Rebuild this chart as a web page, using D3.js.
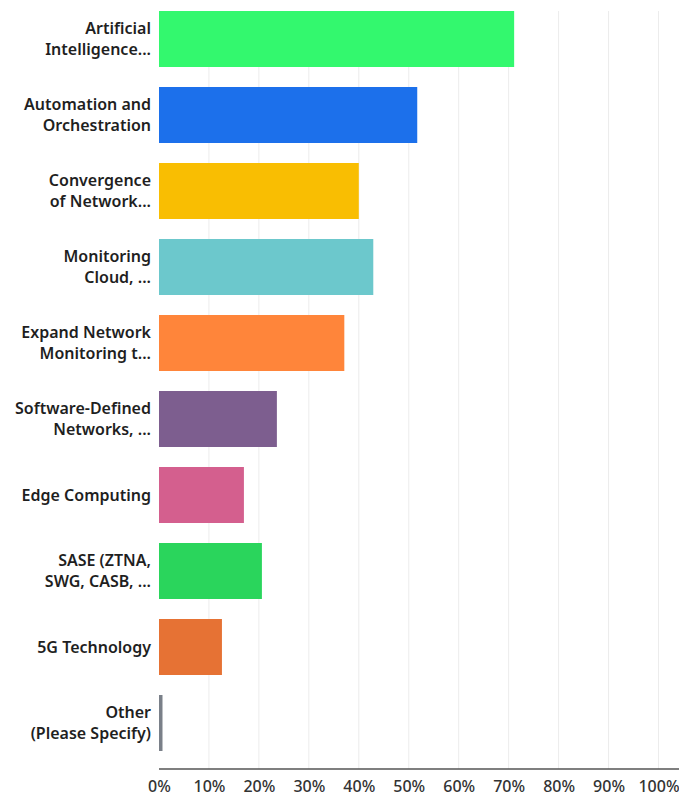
<!DOCTYPE html>
<html>
<head>
<meta charset="utf-8">
<script src="https://cdn.jsdelivr.net/npm/d3@7"></script>
<style>
  body { margin: 0; background: #fff; }
  svg text { font-family: "Noto Sans", sans-serif; }
</style>
</head>
<body>
<script>
var categories = [
  ['Artificial', 'Intelligence...'],
  ['Automation and', 'Orchestration'],
  ['Convergence', 'of Network...'],
  ['Monitoring', 'Cloud, ...'],
  ['Expand Network', 'Monitoring t...'],
  ['Software-Defined', 'Networks, ...'],
  ['Edge Computing'],
  ['SASE (ZTNA,', 'SWG, CASB, ...'],
  ['5G Technology'],
  ['Other', '(Please Specify)']
];
var values = [71.1, 51.7, 40.0, 42.9, 37.1, 23.6, 17.0, 20.6, 12.6, 0.7];
var colors = ['#33f86e', '#1c70eb', '#f9be02', '#6cc8cc', '#ff853a',
              '#7d5e8f', '#d45f8e', '#2ad55c', '#e67234', '#7a8089'];
var tickValues = [0, 10, 20, 30, 40, 50, 60, 70, 80, 90, 100];

var width = 679, height = 797;
var svg = d3.select('body').append('svg')
  .attr('width', width).attr('height', height);

var x = d3.scaleLinear().domain([0, 100]).range([159, 658.5]);
var y = d3.scaleBand().domain(d3.range(categories.length))
  .range([1, 761]).paddingInner(20 / 76).paddingOuter(10 / 76);

// gridlines
svg.append('g').selectAll('line')
  .data(tickValues.slice(1))
  .enter().append('line')
  .attr('x1', function(d) { return x(d); })
  .attr('x2', function(d) { return x(d); })
  .attr('y1', 11).attr('y2', 769)
  .attr('stroke', '#ececec').attr('stroke-width', 1);

// bars
svg.append('g').selectAll('rect')
  .data(values)
  .enter().append('rect')
  .attr('x', x(0))
  .attr('y', function(d, i) { return y(i); })
  .attr('width', function(d) { return x(d) - x(0); })
  .attr('height', y.bandwidth())
  .attr('fill', function(d, i) { return colors[i]; });

// category labels
var lab = svg.append('g').selectAll('text')
  .data(categories)
  .enter().append('text')
  .attr('text-anchor', 'end')
  .attr('font-size', 16)
  .attr('font-weight', 600)
  .attr('fill', '#1f1f1f')
  .attr('transform', function(d, i) {
    return 'translate(151,' + (y(i) + y.bandwidth() / 2) + ')';
  });
lab.selectAll('tspan')
  .data(function(d) { return d.map(function(t, j) { return { t: t, j: j, n: d.length }; }); })
  .enter().append('tspan')
  .attr('x', 0)
  .attr('y', function(d) { return (d.j - (d.n - 1) / 2) * 21; })
  .attr('dy', '0.35em')
  .text(function(d) { return d.t; });

// x axis
var axis = svg.append('g')
  .attr('transform', 'translate(0,769)')
  .call(d3.axisBottom(x).tickValues(tickValues)
    .tickFormat(function(d) { return d + '%'; })
    .tickSize(0).tickPadding(12));
axis.select('.domain').remove();
axis.append('line')
  .attr('x1', x(0)).attr('x2', width)
  .attr('stroke', '#555').attr('stroke-width', 1.5);
axis.selectAll('text')
  .attr('font-size', 16)
  .attr('font-weight', 500)
  .attr('fill', '#333')
  .style('font-family', '"Noto Sans", sans-serif');
</script>
</body>
</html>
